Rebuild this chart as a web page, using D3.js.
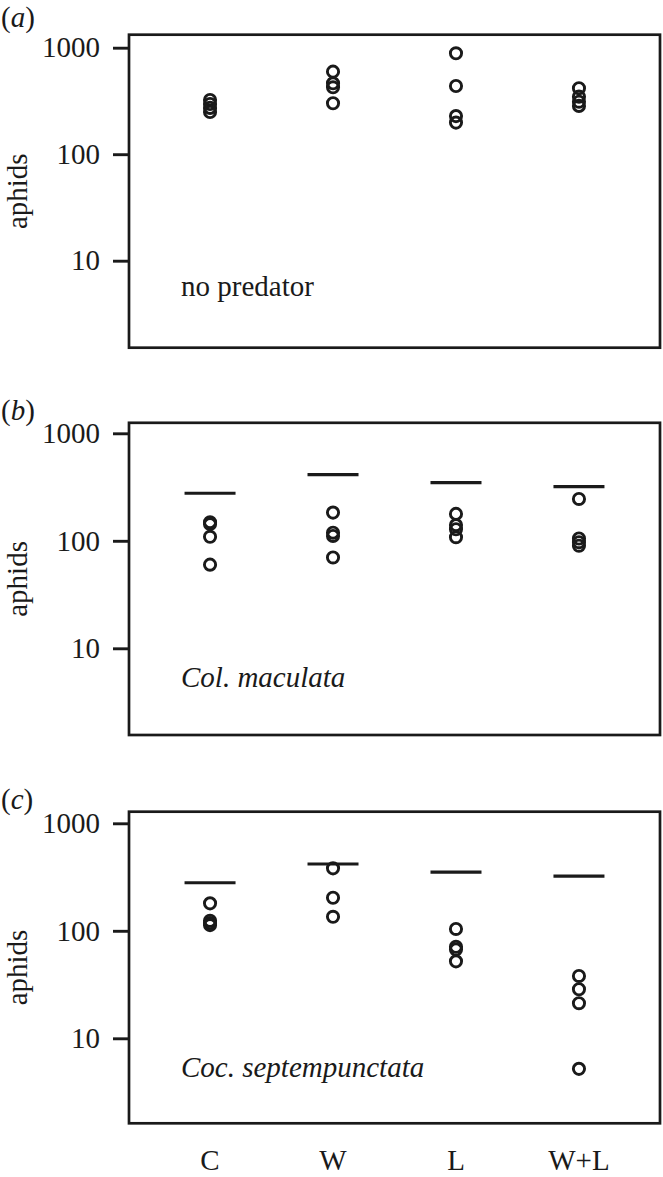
<!DOCTYPE html>
<html>
<head>
<meta charset="utf-8">
<script src="https://cdn.jsdelivr.net/npm/d3@7"></script>
<style>
  body { margin: 0; background: #fff; }
  svg text { font-family: "Liberation Serif", "Times New Roman", serif; }
</style>
</head>
<body>
<svg id="chart" width="663" height="1177"></svg>
<script>
/* ───────── data ───────── */
const CATS    = ['C', 'W', 'L', 'W+L'];
const Y_TICKS = [10, 100, 1000];

// (a) no predator – aphids per replicate, in CATS order
const noPredator = [
  [323, 296, 272, 249],
  [596, 463, 425, 301],
  [886, 437, 228, 198],
  [416, 347, 311, 284]
];

// (b) Col. maculata
const colMaculata = [
  [149, 143, 109, 60],
  [183, 119, 111, 70],
  [178, 140, 128, 108],
  [245, 105, 97, 90]
];
const colMeans = [277, 412, 347, 319];

// (c) Coc. septempunctata
const cocSeptem = [
  [180, 124, 118, 113],
  [381, 203, 135],
  [104, 71, 67, 52],
  [38, 28.6, 21.2, 5.2]
];
const cocMeans = [280, 418, 352, 323];

/* ───────── layout ───────── */
const INK = '#1a1a1a';
const FS  = 29;
const X0 = 129, X1 = 660;          // plot box left / right

const panels = [
  { tag: 'a', pts: noPredator,  means: null,     label: 'no predator',         italic: false,
    top: 34.7,  bottom: 347.7,  y1000: 47.7,  y10: 260.7,  tagY: 26.5,  labelY: 295.5 },
  { tag: 'b', pts: colMaculata, means: colMeans, label: 'Col. maculata',       italic: true,
    top: 422.8, bottom: 735,    y1000: 433.3, y10: 648.3,  tagY: 420,   labelY: 686.7 },
  { tag: 'c', pts: cocSeptem,   means: cocMeans, label: 'Coc. septempunctata', italic: true,
    top: 811.7, bottom: 1123.3, y1000: 823.3, y10: 1038.3, tagY: 808.5, labelY: 1076.7 }
];

const svg = d3.select('#chart');

const x = d3.scalePoint()
  .domain(CATS)
  .range([X0, X1])
  .padding(0.659);

panels.forEach(p => {
  const y = d3.scaleLog().domain([10, 1000]).range([p.y10, p.y1000]);
  const g = svg.append('g');

  /* box */
  g.append('rect')
    .attr('x', X0).attr('y', p.top)
    .attr('width', X1 - X0).attr('height', p.bottom - p.top)
    .attr('fill', 'none').attr('stroke', INK).attr('stroke-width', 2.7);

  /* y axis */
  const ax = g.append('g')
    .attr('transform', `translate(${X0},0)`)
    .call(d3.axisLeft(y).tickValues(Y_TICKS).tickFormat(d3.format('d'))
      .tickSize(16).tickPadding(13));
  ax.select('.domain').remove();
  ax.selectAll('.tick line').attr('stroke', INK).attr('stroke-width', 2.9);
  ax.selectAll('.tick text').attr('font-size', FS).attr('fill', INK);

  /* y title */
  g.append('text')
    .attr('transform', `translate(27,${(p.top + p.bottom) / 2}) rotate(-90)`)
    .attr('text-anchor', 'middle')
    .attr('font-size', FS).attr('fill', INK)
    .text('aphids');

  /* panel tag (a) (b) (c) */
  const t = g.append('text').attr('x', 1).attr('y', p.tagY)
    .attr('font-size', FS).attr('fill', INK);
  t.append('tspan').text('(');
  t.append('tspan').attr('font-style', 'italic').text(p.tag);
  t.append('tspan').text(')');

  /* treatment label */
  g.append('text')
    .attr('x', 181).attr('y', p.labelY)
    .attr('font-size', FS).attr('fill', INK)
    .attr('font-style', p.italic ? 'italic' : null)
    .text(p.label);

  /* no-predator reference lines */
  if (p.means) {
    g.append('g').selectAll('line')
      .data(p.means.map((v, i) => ({ cat: CATS[i], v })))
      .join('line')
        .attr('x1', d => x(d.cat) - 25.5)
        .attr('x2', d => x(d.cat) + 25.5)
        .attr('y1', d => y(d.v))
        .attr('y2', d => y(d.v))
        .attr('stroke', INK).attr('stroke-width', 3.2);
  }

  /* replicates */
  const pts = p.pts.flatMap((arr, i) => arr.map(v => ({ cat: CATS[i], v })));
  g.append('g').selectAll('circle')
    .data(pts)
    .join('circle')
      .attr('cx', d => x(d.cat))
      .attr('cy', d => y(d.v))
      .attr('r', 5.6)
      .attr('fill', 'none')
      .attr('stroke', INK)
      .attr('stroke-width', 2.9);
});

/* category labels under bottom panel */
svg.append('g').selectAll('text')
  .data(CATS)
  .join('text')
    .attr('x', d => x(d))
    .attr('y', 1170)
    .attr('text-anchor', 'middle')
    .attr('font-size', FS).attr('fill', INK)
    .text(d => d);
</script>
</body>
</html>
